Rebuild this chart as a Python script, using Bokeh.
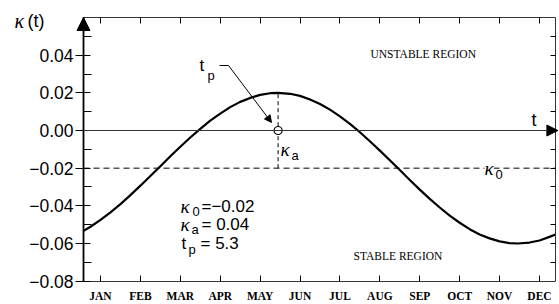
from bokeh.plotting import figure
from bokeh.models import (Range1d, FixedTicker, LinearAxis, CustomJSTickFormatter,
                          Label, Arrow, NormalHead)
from bokeh.embed import file_html
from bokeh.resources import INLINE

# ---- data ----
months = ["JAN", "FEB", "MAR", "APR", "MAY", "JUN",
          "JUL", "AUG", "SEP", "OCT", "NOV", "DEC"]
month_ticks = [1, 2, 3, 4, 5, 6, 7, 8, 9, 10, 11, 12]
y_major = [-0.08, -0.06, -0.04, -0.02, 0.0, 0.02, 0.04]
y_minor = [-0.07, -0.05, -0.03, -0.01, 0.01, 0.03, 0.05]
y_right = [-0.07, -0.06, -0.05, -0.04, -0.03, -0.02, -0.01,
           0.01, 0.02, 0.03, 0.04, 0.05]

t_curve = [0.574, 0.75, 1.0, 1.25, 1.5, 1.75, 2.0, 2.25, 2.5, 2.75, 3.0, 3.25,
           3.5, 3.75, 4.0, 4.25, 4.5, 4.75, 5.0, 5.25, 5.45, 5.75, 6.0, 6.25,
           6.5, 6.75, 7.0, 7.25, 7.5, 7.75, 8.0, 8.25, 8.5, 8.75, 9.0, 9.25,
           9.5, 9.75, 10.0, 10.25, 10.5, 10.75, 11.0, 11.25, 11.45, 11.75,
           12.0, 12.25, 12.4]
k_curve = [-0.0533, -0.0511, -0.0475, -0.0435, -0.0391, -0.0343, -0.0293,
           -0.0242, -0.0190, -0.0137, -0.0086, -0.0037, 0.0009, 0.0052,
           0.0090, 0.0124, 0.0152, 0.0173, 0.0189, 0.0198, 0.0200, 0.0195,
           0.0184, 0.0165, 0.0141, 0.0111, 0.0075, 0.0035, -0.0009, -0.0057,
           -0.0107, -0.0158, -0.0210, -0.0263, -0.0314, -0.0363, -0.0409,
           -0.0452, -0.0490, -0.0524, -0.0552, -0.0573, -0.0589, -0.0598,
           -0.0600, -0.0595, -0.0584, -0.0565, -0.0552]

kappa0 = -0.02
kappa_a = 0.04
t_peak = 5.45
k0_text = "=\u22120.02"
ka_text = "=  0.04"
tp_text = "=  5.3"

# axis extents (data)
X0, X1 = 0.574, 12.40
Y0, Y1 = -0.08, 0.06

W, H = 559, 304
PX_MONTH = 39.91       # px per month
PX_UNIT = 1883.0       # px per unit of kappa
# full-canvas ranges: month 1 sits at px 100, kappa 0 at px 130 from the top
XR = (1 - 100 / PX_MONTH, 1 + (W - 100) / PX_MONTH)
YR = ((130 - H) / PX_UNIT, 130 / PX_UNIT)

def X(px):
    return 1 + (px - 100) / PX_MONTH

def Y(py):
    return (130 - py) / PX_UNIT

p = figure(width=W, height=H, x_range=Range1d(*XR), y_range=Range1d(*YR),
           output_backend="svg", toolbar_location=None,
           x_axis_location=None, y_axis_location=None,
           min_border_left=0, min_border_right=0, min_border_top=0, min_border_bottom=0)
p.grid.visible = False
p.outline_line_color = None
p.background_fill_color = "white"
p.border_fill_color = "white"

blank = CustomJSTickFormatter(code="return '';")

# bottom axis: months
xa = LinearAxis(fixed_location=Y0, bounds=(X0, X1),
                ticker=FixedTicker(ticks=month_ticks, minor_ticks=[]),
                formatter=CustomJSTickFormatter(args=dict(labels=months),
                                                code="return labels[Math.round(tick)-1];"),
                major_tick_in=6, major_tick_out=0, minor_tick_in=0, minor_tick_out=0,
                major_label_text_font="Liberation Serif",
                major_label_text_font_style="bold",
                major_label_text_font_size="11.5px",
                major_label_text_color="black",
                major_label_standoff=9,
                axis_line_color="#333333")
p.add_layout(xa, "below")

# left axis
ya = LinearAxis(fixed_location=X0, bounds=(Y0, Y1),
                ticker=FixedTicker(ticks=y_major, minor_ticks=y_minor),
                formatter=CustomJSTickFormatter(code="return tick.toFixed(2).replace('-', '\u2212');"),
                major_tick_in=7, major_tick_out=8, minor_tick_in=8, minor_tick_out=0,
                axis_line_width=1.8, axis_line_color="black",
                major_label_standoff=2,
                major_label_text_font="Liberation Sans",
                major_label_text_font_size="17.5px",
                major_label_text_color="black")
p.add_layout(ya, "left")

# top axis: ticks only
top = LinearAxis(fixed_location=Y1, bounds=(X0, X1),
                 ticker=FixedTicker(ticks=month_ticks, minor_ticks=[]),
                 formatter=blank,
                 major_tick_in=6, major_tick_out=0, minor_tick_in=0, minor_tick_out=0,
                 major_label_standoff=0, axis_line_color="#333333")
p.add_layout(top, "above")

# right axis: ticks only
right = LinearAxis(fixed_location=X1, bounds=(Y0, Y1),
                   ticker=FixedTicker(ticks=y_right, minor_ticks=[]),
                   formatter=blank,
                   major_tick_in=5, major_tick_out=0, minor_tick_in=0, minor_tick_out=0,
                   major_label_standoff=0, axis_line_color="#333333")
p.add_layout(right, "right")

# kappa0 dashed line
p.segment(x0=[X0], y0=[kappa0], x1=[X1], y1=[kappa0], line_dash="6 4",
          color="black", line_width=1)

# zero line with arrow (t axis)
p.add_layout(Arrow(end=NormalHead(size=11, fill_color="black", line_color="black"),
                   x_start=X0, y_start=0, x_end=X1 + 0.06, y_end=0,
                   line_color="#333333", line_width=1))

# y-axis arrow head
p.add_layout(Arrow(end=NormalHead(size=13, fill_color="black", line_color="black"),
                   x_start=X0, y_start=Y1 - 0.004, x_end=X0, y_end=Y1,
                   line_alpha=0))

# curve
p.line(t_curve, k_curve, line_width=2.2, color="black")

# amplitude dashed vertical
p.segment(x0=[t_peak], y0=[kappa0], x1=[t_peak], y1=[kappa0 + kappa_a],
          line_dash="4 3", color="black", line_width=1)

# tp pointer
p.add_layout(Arrow(end=None, x_start=X(219), y_start=Y(65), x_end=X(228), y_end=Y(65),
                   line_color="black", line_width=1))
p.add_layout(Arrow(end=NormalHead(size=7, fill_color="black", line_color="black"),
                   x_start=X(228), y_start=Y(65), x_end=X(271), y_end=Y(122),
                   line_color="black", line_width=1))

# open circle at tp on zero line
p.scatter([t_peak], [0], size=8, marker="circle", fill_color="white",
          line_color="black", line_width=1.2)

def lab(x, y, text, font="Liberation Sans", size="17px", style="normal", bg=None):
    kw = dict(x=x, y=y, text=text, text_font=font, text_font_size=size,
              text_font_style=style, text_baseline="middle", text_align="left",
              text_color="black")
    if bg:
        kw["background_fill_color"] = bg
    p.add_layout(Label(**kw))

# axis titles
lab(X(14), Y(20), "\u03ba", font="Liberation Serif", size="20px", style="italic")
lab(X(27), Y(20), "(t)", size="18px")
lab(X(531), Y(119), "t", size="18px")

# kappa0 label on dashed line
lab(X(484), Y(168), "\u03ba", font="Liberation Serif", size="19px", style="italic", bg="white")
lab(X(495), Y(174), "0", size="13px", bg="white")

# kappa_a label
lab(X(280), Y(149), "\u03ba", font="Liberation Serif", size="19px", style="italic")
lab(X(291), Y(155), "a", size="13px")

# tp label
lab(X(199), Y(65), "t", size="17px")
lab(X(207), Y(75), "p", size="13px")

# parameter block
lab(X(180), Y(206), "\u03ba", font="Liberation Serif", size="19px", style="italic")
lab(X(192), Y(211), "0", size="13px")
lab(X(201), Y(206), k0_text, size="17px")
lab(X(180), Y(224), "\u03ba", font="Liberation Serif", size="19px", style="italic")
lab(X(191), Y(229), "a", size="13px")
lab(X(201), Y(224), ka_text, size="17px")
lab(X(181), Y(243), "t", size="17px")
lab(X(188), Y(249), "p", size="13px")
lab(X(200), Y(243), tp_text, size="17px")

# region labels
lab(X(370), Y(53), "UNSTABLE REGION", font="Liberation Serif", size="11.5px")
lab(X(353), Y(255), "STABLE REGION", font="Liberation Serif", size="11.5px")

open("out.html", "w").write(file_html(p, INLINE))
